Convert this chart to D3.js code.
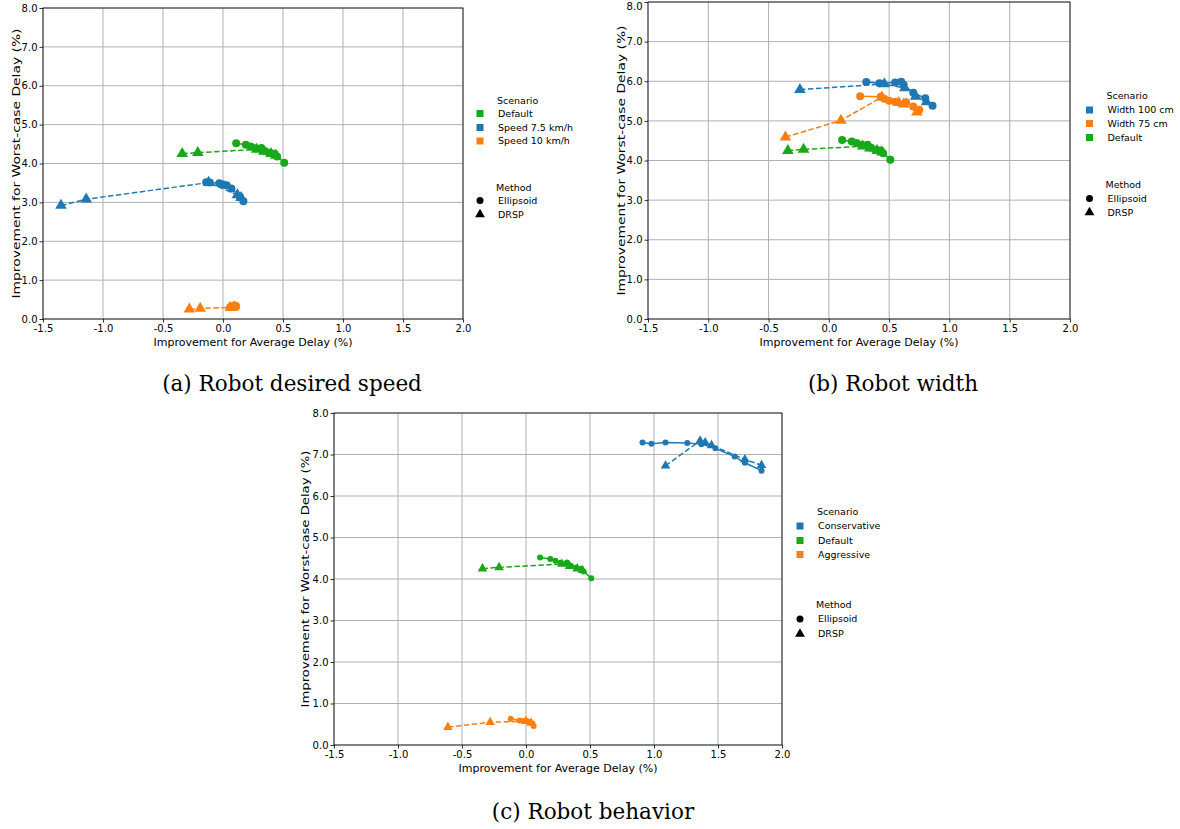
<!DOCTYPE html>
<html><head><meta charset="utf-8">
<script src="https://cdn.jsdelivr.net/npm/d3@7"></script>
<style>
html,body{margin:0;padding:0;background:#fff;}
svg{display:block;}
</style></head>
<body>
<svg id="chart" width="1180" height="829"></svg>
<script>
// ---------- DATA ----------
const xTicks = [-1.5, -1.0, -0.5, 0.0, 0.5, 1.0, 1.5, 2.0];
const yTicks = [0, 1, 2, 3, 4, 5, 6, 7, 8];
const xLabel = "Improvement for Average Delay (%)";
const yLabel = "Improvement for Worst-case Delay (%)";
const methods = ["Ellipsoid", "DRSP"];

const defaultEllipsoid = [[0.11,4.52],[0.19,4.48],[0.23,4.44],[0.27,4.39],[0.32,4.40],[0.35,4.32],[0.39,4.27],[0.43,4.25],[0.45,4.18],[0.51,4.02]];
const defaultDRSP = [[-0.34,4.25],[-0.21,4.28],[0.28,4.36],[0.34,4.31],[0.40,4.25],[0.44,4.21]];

const speed75Ellipsoid = [[-0.14,3.52],[-0.11,3.51],[-0.03,3.49],[0.00,3.46],[0.03,3.44],[0.07,3.36],[0.14,3.15],[0.17,3.03]];
const speed75DRSP = [[-1.35,2.92],[-1.14,3.08],[-0.12,3.51],[0.12,3.19],[0.15,3.12]];

const speed10Ellipsoid = [[0.06,0.31],[0.08,0.33],[0.09,0.32],[0.10,0.35],[0.11,0.33],[0.10,0.31]];
const speed10DRSP = [[-0.28,0.25],[-0.19,0.27],[0.06,0.30],[0.09,0.31]];

const width100Ellipsoid = [[0.31,5.98],[0.42,5.95],[0.55,5.97],[0.60,5.99],[0.62,5.91],[0.70,5.71],[0.80,5.57],[0.86,5.38]];
const width100DRSP = [[-0.24,5.79],[0.46,5.93],[0.63,5.83],[0.72,5.62],[0.81,5.48]];

const width75Ellipsoid = [[0.26,5.62],[0.43,5.61],[0.46,5.56],[0.50,5.51],[0.55,5.48],[0.64,5.47],[0.70,5.36],[0.75,5.28]];
const width75DRSP = [[-0.36,4.59],[0.10,5.01],[0.44,5.60],[0.58,5.46],[0.62,5.42],[0.73,5.22]];

const conservativeEllipsoid = [[0.91,7.29],[0.98,7.26],[1.09,7.29],[1.26,7.28],[1.37,7.25],[1.48,7.15],[1.63,6.95],[1.71,6.80],[1.84,6.61]];
const conservativeDRSP = [[1.09,6.73],[1.36,7.33],[1.40,7.29],[1.45,7.22],[1.71,6.88],[1.84,6.74]];

const aggressiveEllipsoid = [[-0.12,0.63],[-0.05,0.59],[-0.02,0.58],[0.01,0.57],[0.03,0.55],[0.05,0.52],[0.06,0.46]];
const aggressiveDRSP = [[-0.61,0.43],[-0.28,0.55],[0.00,0.57],[0.04,0.53]];

const panelAScenarios = ["Default", "Speed 7.5 km/h", "Speed 10 km/h"];
const panelBScenarios = ["Width 100 cm", "Width 75 cm", "Default"];
const panelCScenarios = ["Conservative", "Default", "Aggressive"];
const captions = ["(a) Robot desired speed", "(b) Robot width", "(c) Robot behavior"];

// ---------- STYLE ----------
const BLUE = "#1f77b4", ORANGE = "#ff7f0e", GREEN = "#19a819";
const colorOf = {
  "Default": GREEN, "Speed 7.5 km/h": BLUE, "Speed 10 km/h": ORANGE,
  "Width 100 cm": BLUE, "Width 75 cm": ORANGE,
  "Conservative": BLUE, "Aggressive": ORANGE
};
const seriesOf = {
  "Default": [defaultEllipsoid, defaultDRSP],
  "Speed 7.5 km/h": [speed75Ellipsoid, speed75DRSP],
  "Speed 10 km/h": [speed10Ellipsoid, speed10DRSP],
  "Width 100 cm": [width100Ellipsoid, width100DRSP],
  "Width 75 cm": [width75Ellipsoid, width75DRSP],
  "Conservative": [conservativeEllipsoid, conservativeDRSP],
  "Aggressive": [aggressiveEllipsoid, aggressiveDRSP]
};

const panels = [
  {scen: panelAScenarios, left: 43, right: 463, top: 8, bottom: 319, r: 4, tri: 58, ys: 1.26,
   legX: 480, legTop: 100.5, legRows: [113.5, 127.5, 141], methY: 188, methRows: [200.5, 214.5],
   cap: captions[0], capX: 292, capY: 391, ylabX: 16},
  {scen: panelBScenarios, left: 648, right: 1070, top: 2, bottom: 319, r: 4, tri: 58, ys: 1.26,
   legX: 1089.5, legTop: 95.5, legRows: [110, 123.5, 137.5], methY: 185, methRows: [198.5, 212.5],
   cap: captions[1], capX: 893, capY: 391, ylabX: 621},
  {scen: panelCScenarios, left: 334, right: 782, top: 413, bottom: 745, r: 3, tri: 40, ys: 1.2,
   legX: 800, legTop: 512, legRows: [526, 540.5, 554.5], methY: 605, methRows: [619, 634],
   cap: captions[2], capX: 593, capY: 819, ylabX: 305}
];

const svg = d3.select("#chart");
const FONT = "DejaVu Sans, sans-serif";

panels.forEach(p => {
  const x = d3.scaleLinear().domain([xTicks[0], xTicks[xTicks.length-1]]).range([p.left, p.right]);
  const y = d3.scaleLinear().domain([yTicks[0], yTicks[yTicks.length-1]]).range([p.bottom, p.top]);
  const g = svg.append("g");

  // grid
  g.append("g").selectAll("line").data(xTicks).join("line")
    .attr("x1", d => x(d)).attr("x2", d => x(d)).attr("y1", p.top).attr("y2", p.bottom)
    .attr("stroke", "#b0b0b0").attr("stroke-width", 1);
  g.append("g").selectAll("line").data(yTicks).join("line")
    .attr("y1", d => y(d)).attr("y2", d => y(d)).attr("x1", p.left).attr("x2", p.right)
    .attr("stroke", "#b0b0b0").attr("stroke-width", 1);

  // axes
  const xa = g.append("g").attr("transform", `translate(0,${p.bottom})`)
    .call(d3.axisBottom(x).tickValues(xTicks).tickFormat(d3.format(".1f")).tickSize(3.5).tickPadding(2));
  const ya = g.append("g").attr("transform", `translate(${p.left},0)`)
    .call(d3.axisLeft(y).tickValues(yTicks).tickFormat(d3.format(".1f")).tickSize(3.5).tickPadding(2));
  [xa, ya].forEach(a => {
    a.select(".domain").remove();
    a.selectAll("text").attr("font-family", FONT).attr("font-size", 10).attr("fill", "#000");
    a.selectAll("line").attr("stroke", "#000").attr("stroke-width", 0.8);
  });
  xa.selectAll("text").text(d => d3.format(".1f")(d).replace("−", "-"));
  ya.selectAll("text").text(d => d3.format(".1f")(d));
  // keep the top tick label inside the page
  ya.selectAll(".tick").filter(d => y(d) < 6).select("text").attr("y", d => 6 - y(d));

  // frame
  g.append("rect").attr("x", p.left).attr("y", p.top)
    .attr("width", p.right - p.left).attr("height", p.bottom - p.top)
    .attr("fill", "none").attr("stroke", "#000").attr("stroke-width", 0.8);

  // labels
  g.append("text").attr("x", (p.left + p.right)/2).attr("y", p.bottom + 27)
    .attr("text-anchor", "middle").attr("font-family", FONT).attr("font-size", 11).text(xLabel);
  g.append("text").attr("transform", `translate(${p.ylabX},${(p.top+p.bottom)/2}) rotate(-90) scale(${p.ys},1)`)
    .attr("text-anchor", "middle").attr("dy", "0.35em").attr("font-family", FONT).attr("font-size", 11).text(yLabel);

  // data
  const line = d3.line().x(d => x(d[0])).y(d => y(d[1]));
  p.scen.forEach(s => {
    const c = colorOf[s];
    const [ell, dr] = seriesOf[s];
    g.append("path").datum(ell).attr("d", line).attr("fill", "none").attr("stroke", c).attr("stroke-width", 1.5);
    g.append("path").datum(dr).attr("d", line).attr("fill", "none").attr("stroke", c).attr("stroke-width", 1.5)
      .attr("stroke-dasharray", "5.5,2.5");
    g.append("g").selectAll("circle").data(ell).join("circle")
      .attr("cx", d => x(d[0])).attr("cy", d => y(d[1])).attr("r", p.r).attr("fill", c);
    g.append("g").selectAll("path").data(dr).join("path")
      .attr("d", d3.symbol(d3.symbolTriangle, p.tri)())
      .attr("transform", d => `translate(${x(d[0])},${y(d[1])})`).attr("fill", c);
  });

  // legend
  const lg = g.append("g").attr("font-family", FONT).attr("font-size", 9.5);
  lg.append("text").attr("x", p.legX + 17).attr("y", p.legTop).attr("dy", "0.35em").text("Scenario");
  p.scen.forEach((s, i) => {
    lg.append("rect").attr("x", p.legX - 3.5).attr("y", p.legRows[i] - 3.5).attr("width", 7).attr("height", 7).attr("fill", colorOf[s]);
    lg.append("text").attr("x", p.legX + 18).attr("y", p.legRows[i]).attr("dy", "0.35em").text(s);
  });
  lg.append("text").attr("x", p.legX + 16).attr("y", p.methY).attr("dy", "0.35em").text("Method");
  methods.forEach((m, i) => {
    if (i === 0) lg.append("circle").attr("cx", p.legX).attr("cy", p.methRows[i]).attr("r", 3.5).attr("fill", "#000");
    else lg.append("path").attr("d", d3.symbol(d3.symbolTriangle, 42)()).attr("transform", `translate(${p.legX},${p.methRows[i]})`).attr("fill", "#000");
    lg.append("text").attr("x", p.legX + 18).attr("y", p.methRows[i]).attr("dy", "0.35em").text(m);
  });

  // caption
  svg.append("text").attr("x", p.capX).attr("y", p.capY).attr("text-anchor", "middle")
    .attr("font-family", "DejaVu Serif, serif").attr("font-size", 21.5).text(p.cap);
});
</script>
</body></html>
